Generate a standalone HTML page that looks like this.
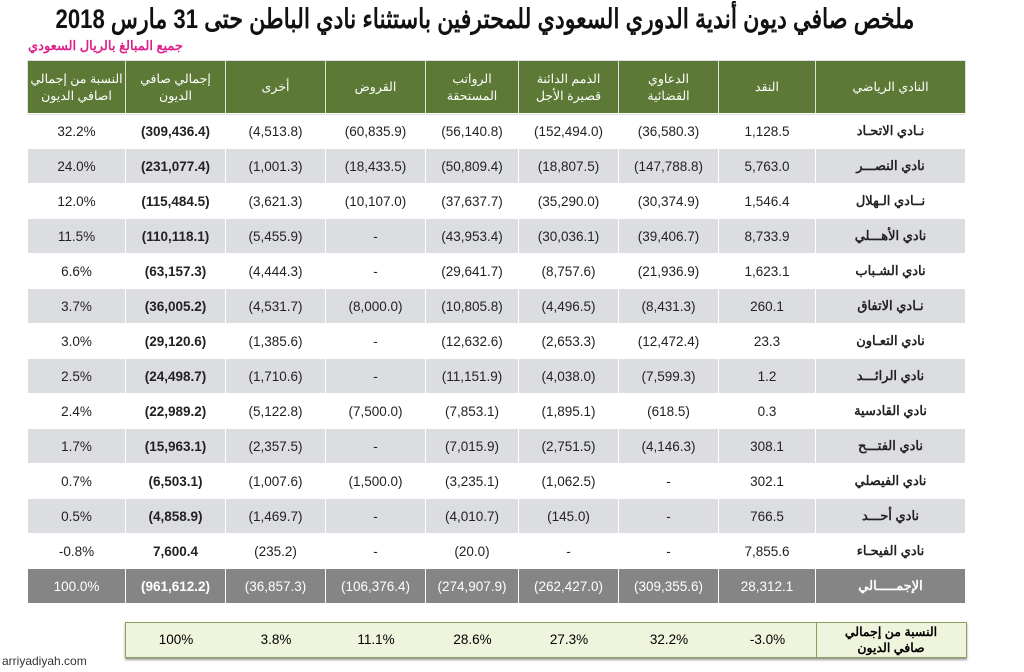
<!DOCTYPE html>
<html><head><meta charset="utf-8"><style>
body{margin:0;width:1024px;height:672px;background:#fff;position:relative;overflow:hidden;font-family:"Liberation Sans","Noto Sans CJK SC",sans-serif}
.t{position:absolute;right:110px;top:4px;font-size:27px;font-weight:bold;color:#111;direction:rtl;white-space:nowrap;transform:scaleX(0.82);transform-origin:right top}
.s{position:absolute;left:28px;top:38px;font-size:13px;color:#e0208a;direction:rtl;font-weight:bold}
table{position:absolute;left:27px;border-collapse:collapse;table-layout:fixed}
td{border:1px solid #fff;text-align:center;font-size:13.5px;color:#222;padding:0;overflow:hidden;white-space:nowrap}
.h td{background:#5c7a36;color:#fff;height:53px;font-size:12.5px;line-height:17px;white-space:normal;border-color:#e0e0e0;padding:0 8px}
.g td{background:#dcdde0}
.b{font-weight:bold}
.c{direction:rtl;font-weight:bold;font-size:13px;text-align:center}
.tot td{background:#858586;color:#fff;height:34px}
.p{position:absolute;left:125px;top:622px;width:840px;height:34px;border:1px solid #8aa060;background:#eef5dc;box-shadow:0 2px 2px #999;display:flex}
.p div{text-align:center;line-height:34px;font-size:13.5px}
.w{position:absolute;left:2px;top:654px;font-size:12px;color:#333}
</style></head><body>
<div class="t">ملخص صافي ديون أندية الدوري السعودي للمحترفين باستثناء نادي الباطن حتى 31 مارس 2018</div>
<div class="s">جميع المبالغ بالريال السعودي</div>
<table style="top:60px">
<colgroup><col style="width:98px"><col style="width:100px"><col style="width:100px"><col style="width:100px"><col style="width:93px"><col style="width:100px"><col style="width:100px"><col style="width:97px"><col style="width:150px"></colgroup>
<tr class="h"><td style="padding:0 2px">النسبة من إجمالي اصافي الديون</td><td>إجمالي صافي الديون</td><td>أخرى</td><td>القروض</td><td>الرواتب المستحقة</td><td>الذمم الدائنة قصيرة الأجل</td><td style="padding:0 22px">الدعاوي القضائية</td><td>النقد</td><td>النادي الرياضي</td></tr>
</table>
<table style="top:113px" id="d">
<colgroup><col style="width:98px"><col style="width:100px"><col style="width:100px"><col style="width:100px"><col style="width:93px"><col style="width:100px"><col style="width:100px"><col style="width:97px"><col style="width:150px"></colgroup>
<tr style="height:35px"><td>32.2%</td><td class="b">(309,436.4)</td><td>(4,513.8)</td><td>(60,835.9)</td><td>(56,140.8)</td><td>(152,494.0)</td><td>(36,580.3)</td><td>1,128.5</td><td class="c">نـادي الاتحـاد</td></tr>
<tr class="g" style="height:35px"><td>24.0%</td><td class="b">(231,077.4)</td><td>(1,001.3)</td><td>(18,433.5)</td><td>(50,809.4)</td><td>(18,807.5)</td><td>(147,788.8)</td><td>5,763.0</td><td class="c">نادي النصـــر</td></tr>
<tr style="height:35px"><td>12.0%</td><td class="b">(115,484.5)</td><td>(3,621.3)</td><td>(10,107.0)</td><td>(37,637.7)</td><td>(35,290.0)</td><td>(30,374.9)</td><td>1,546.4</td><td class="c">نــادي الـهلال</td></tr>
<tr class="g" style="height:35px"><td>11.5%</td><td class="b">(110,118.1)</td><td>(5,455.9)</td><td>-</td><td>(43,953.4)</td><td>(30,036.1)</td><td>(39,406.7)</td><td>8,733.9</td><td class="c">نادي الأهـــلي</td></tr>
<tr style="height:35px"><td>6.6%</td><td class="b">(63,157.3)</td><td>(4,444.3)</td><td>-</td><td>(29,641.7)</td><td>(8,757.6)</td><td>(21,936.9)</td><td>1,623.1</td><td class="c">نادي الشـباب</td></tr>
<tr class="g" style="height:35px"><td>3.7%</td><td class="b">(36,005.2)</td><td>(4,531.7)</td><td>(8,000.0)</td><td>(10,805.8)</td><td>(4,496.5)</td><td>(8,431.3)</td><td>260.1</td><td class="c">نـادي الاتفاق</td></tr>
<tr style="height:35px"><td>3.0%</td><td class="b">(29,120.6)</td><td>(1,385.6)</td><td>-</td><td>(12,632.6)</td><td>(2,653.3)</td><td>(12,472.4)</td><td>23.3</td><td class="c">نادي التعـاون</td></tr>
<tr class="g" style="height:35px"><td>2.5%</td><td class="b">(24,498.7)</td><td>(1,710.6)</td><td>-</td><td>(11,151.9)</td><td>(4,038.0)</td><td>(7,599.3)</td><td>1.2</td><td class="c">نادي الرائـــد</td></tr>
<tr style="height:35px"><td>2.4%</td><td class="b">(22,989.2)</td><td>(5,122.8)</td><td>(7,500.0)</td><td>(7,853.1)</td><td>(1,895.1)</td><td>(618.5)</td><td>0.3</td><td class="c">نادي القادسية</td></tr>
<tr class="g" style="height:35px"><td>1.7%</td><td class="b">(15,963.1)</td><td>(2,357.5)</td><td>-</td><td>(7,015.9)</td><td>(2,751.5)</td><td>(4,146.3)</td><td>308.1</td><td class="c">نادي الفتـــح</td></tr>
<tr style="height:35px"><td>0.7%</td><td class="b">(6,503.1)</td><td>(1,007.6)</td><td>(1,500.0)</td><td>(3,235.1)</td><td>(1,062.5)</td><td>-</td><td>302.1</td><td class="c">نادي الفيصلي</td></tr>
<tr class="g" style="height:35px"><td>0.5%</td><td class="b">(4,858.9)</td><td>(1,469.7)</td><td>-</td><td>(4,010.7)</td><td>(145.0)</td><td>-</td><td>766.5</td><td class="c">نادي أحـــد</td></tr>
<tr style="height:35px"><td>-0.8%</td><td class="b">7,600.4</td><td>(235.2)</td><td>-</td><td>(20.0)</td><td>-</td><td>-</td><td>7,855.6</td><td class="c">نادي الفيحـاء</td></tr>
<tr class="tot"><td>100.0%</td><td class="b">(961,612.2)</td><td>(36,857.3)</td><td>(106,376.4)</td><td>(274,907.9)</td><td>(262,427.0)</td><td>(309,355.6)</td><td>28,312.1</td><td class="c" style="color:#fff">الإجمـــــالي</td></tr>
</table>
<div class="p"><div style="width:100px">100%</div><div style="width:100px">3.8%</div><div style="width:100px">11.1%</div><div style="width:93px">28.6%</div><div style="width:100px">27.3%</div><div style="width:100px">32.2%</div><div style="width:97px">-3.0%</div><div style="width:149px;border-left:1px solid #8aa060;line-height:16px;padding:1px 12px 0;box-sizing:border-box;font-size:12.5px;font-weight:bold;direction:rtl">النسبة من إجمالي<br>صافي الديون</div></div>
<div class="w">arriyadiyah.com</div>
</body></html>
